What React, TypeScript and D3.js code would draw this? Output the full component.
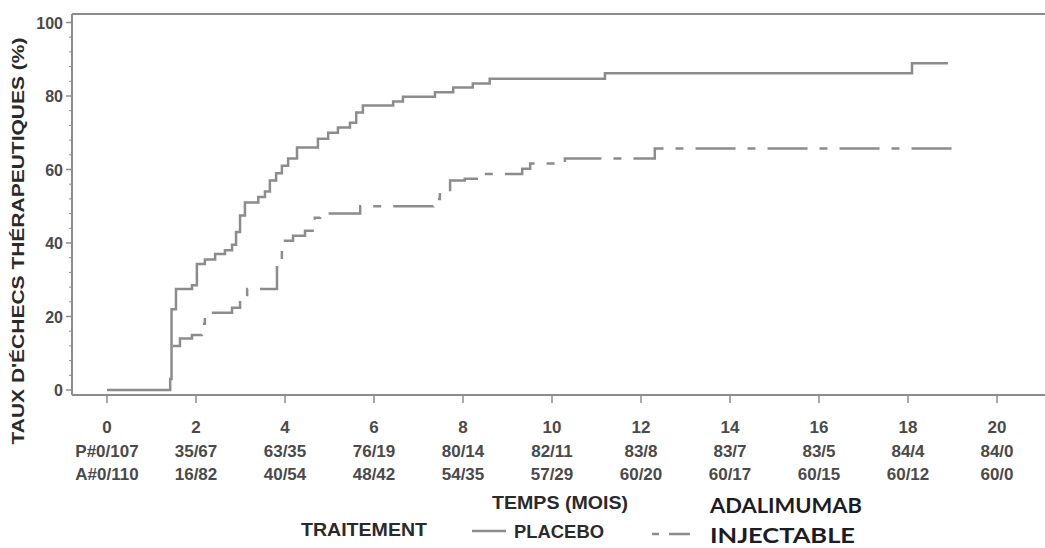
import React from 'react';
import * as d3 from 'd3';

// x ticks (months) and the numbers at risk below them
const monthTicks = [0, 2, 4, 6, 8, 10, 12, 14, 16, 18, 20];
const placeboRisk = ['P#0/107', '35/67', '63/35', '76/19', '80/14', '82/11', '83/8', '83/7', '83/5', '84/4', '84/0'];
const adaRisk = ['A#0/110', '16/82', '40/54', '48/42', '54/35', '57/29', '60/20', '60/17', '60/15', '60/12', '60/0'];
const rateTicks = [0, 20, 40, 60, 80, 100];

// placebo curve (solid)
const placeboMonths = [0, 1.42, 1.45, 1.55, 1.91, 2.02, 2.2, 2.43, 2.65, 2.81, 2.9, 2.99, 3.1, 3.4, 3.55, 3.66, 3.8, 3.93, 4.07, 4.27, 4.74, 4.97, 5.19, 5.46, 5.6, 5.75, 6.43, 6.65, 7.37, 7.78, 8.22, 8.6, 11.19, 18.09, 18.9];
const placeboRate = [0, 3, 22, 27.5, 28.5, 34.3, 35.5, 37, 38, 39.5, 43, 47.5, 51, 52.5, 54, 57, 59, 61, 63, 66, 68.4, 70, 71.4, 72.7, 75.5, 77.4, 78.5, 79.8, 81, 82.3, 83.4, 84.7, 86.2, 88.9, 88.9];

// adalimumab curve (dashed)
const adaMonths = [1.48, 1.64, 1.91, 2.13, 2.2, 2.81, 2.99, 3.15, 3.82, 3.93, 4.0, 4.18, 4.45, 4.67, 4.79, 5.69, 7.33, 7.48, 7.71, 8.04, 8.31, 9.33, 9.51, 10.29, 12.31, 19.12];
const adaRate = [12, 14, 15, 18, 21, 22.4, 24.8, 27.5, 34.6, 38, 40.6, 42, 43.3, 46.9, 48, 50, 52, 54, 57, 57.5, 58.8, 60.2, 61.6, 63, 65.7, 65.7];

const W = 1045;
const H = 548;
const GRAY = '#8c8c8c';
const DASH = '40 12 8 12';

export default function App() {
  const x = d3.scaleLinear().domain([0, 20]).range([107, 997]);
  const y = d3.scaleLinear().domain([0, 100]).range([390, 22.5]);
  const left = 72;
  const top = 14;
  const bottom = 395;

  const line = d3
    .line<[number, number]>()
    .x((d) => x(d[0]))
    .y((d) => y(d[1]))
    .curve(d3.curveStepAfter);

  const placebo = placeboMonths.map((m, i) => [m, placeboRate[i]] as [number, number]);
  const ada = adaMonths.map((m, i) => [m, adaRate[i]] as [number, number]);

  const minor = d3.range(0, 101, 4).filter((v) => v % 20 !== 0);
  const tickFont = { fontFamily: '"Liberation Sans", Arial, sans-serif', fontWeight: 700, fontSize: 17, fill: '#4a4a4a' };

  return (
    <svg width={W} height={H} style={{ position: 'absolute', left: 0, top: 0, background: '#fff' }}>
      {/* frame */}
      <line x1={left} x2={W} y1={top} y2={top} stroke={GRAY} strokeWidth={2} />
      <line x1={left} x2={left} y1={top} y2={bottom} stroke={GRAY} strokeWidth={2} />
      <line x1={left} x2={W} y1={bottom} y2={bottom} stroke={GRAY} strokeWidth={2} />

      {/* y axis */}
      {rateTicks.map((v) => (
        <g key={v}>
          <line x1={left - 6} x2={left} y1={y(v)} y2={y(v)} stroke={GRAY} strokeWidth={1.5} />
          <text x={left - 9} y={y(v) + 6} textAnchor="end" {...tickFont} fontSize={16}>
            {v}
          </text>
        </g>
      ))}
      {minor.map((v) => (
        <line key={v} x1={left - 3} x2={left} y1={y(v)} y2={y(v)} stroke={GRAY} strokeWidth={1} />
      ))}
      <text
        transform={`translate(24,${241}) rotate(-90)`}
        textAnchor="middle"
        fontFamily='"Liberation Sans", Arial, sans-serif'
        fontWeight={700}
        fontSize={17}
        fill="#2a2a2a"
        textLength={407}
        lengthAdjust="spacingAndGlyphs"
      >
        TAUX D'ÉCHECS THÉRAPEUTIQUES (%)
      </text>

      {/* x axis + at-risk table */}
      {monthTicks.map((m, i) => (
        <g key={m}>
          <line x1={x(m)} x2={x(m)} y1={bottom} y2={bottom + 8} stroke={GRAY} strokeWidth={1.5} />
          <text x={x(m)} y={433} textAnchor="middle" {...tickFont}>
            {m}
          </text>
          <text x={x(m)} y={457} textAnchor="middle" {...tickFont}>
            {placeboRisk[i]}
          </text>
          <text x={x(m)} y={480} textAnchor="middle" {...tickFont}>
            {adaRisk[i]}
          </text>
        </g>
      ))}

      {/* curves */}
      <path d={line(placebo) || ''} fill="none" stroke={GRAY} strokeWidth={2.5} />
      <path d={line(ada) || ''} fill="none" stroke={GRAY} strokeWidth={2.5} strokeDasharray={DASH} />

      {/* titles and legend */}
      <text x={560} y={509} textAnchor="middle" fontFamily='"Liberation Sans", Arial, sans-serif' fontWeight={700} fontSize={18} fill="#2a2a2a" textLength={136} lengthAdjust="spacingAndGlyphs">
        TEMPS (MOIS)
      </text>
      <text x={364} y={536} textAnchor="middle" fontFamily='"Liberation Sans", Arial, sans-serif' fontWeight={700} fontSize={18} fill="#2a2a2a" textLength={126} lengthAdjust="spacingAndGlyphs">
        TRAITEMENT
      </text>
      <line x1={472} x2={506} y1={531} y2={531} stroke={GRAY} strokeWidth={2.5} />
      <text x={514} y={538} fontFamily='"Liberation Sans", Arial, sans-serif' fontWeight={700} fontSize={18} fill="#2a2a2a" textLength={90} lengthAdjust="spacingAndGlyphs">
        PLACEBO
      </text>
      <line x1={652} x2={690} y1={534} y2={534} stroke={GRAY} strokeWidth={2.5} strokeDasharray="7 10 30" />
      <text x={710} y={513} fontFamily='Lato, "Open Sans", sans-serif' fontWeight={700} fontSize={20} fill="#1c1c24" textLength={152} lengthAdjust="spacingAndGlyphs">
        ADALIMUMAB
      </text>
      <text x={710} y={543} fontFamily='Lato, "Open Sans", sans-serif' fontWeight={700} fontSize={20} fill="#1c1c24" textLength={145} lengthAdjust="spacingAndGlyphs">
        INJECTABLE
      </text>
    </svg>
  );
}
